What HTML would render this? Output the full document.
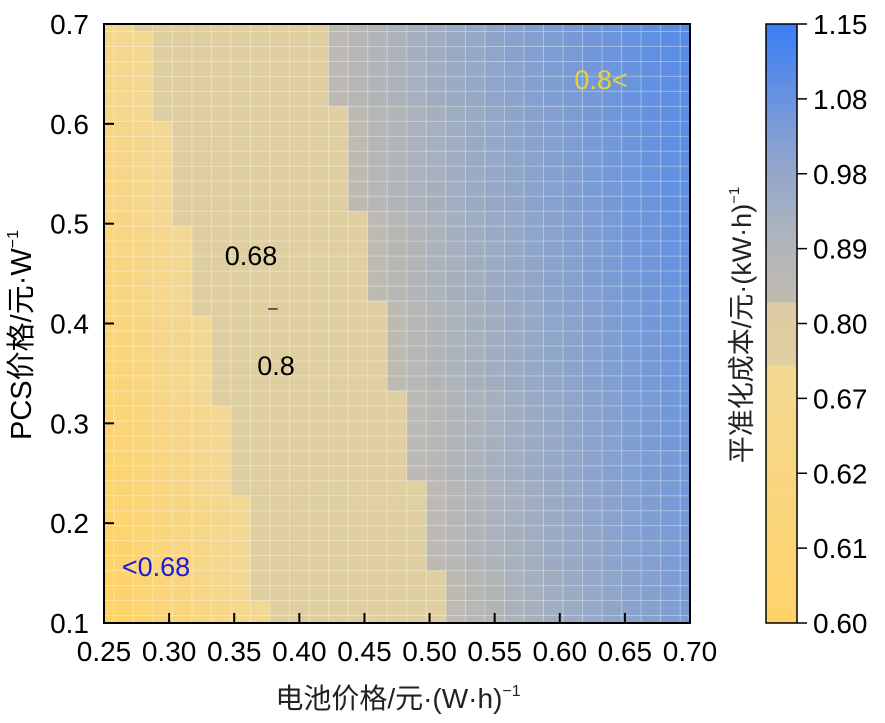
<!DOCTYPE html>
<html><head><meta charset="utf-8">
<style>
html,body{margin:0;padding:0;background:#fff;}
svg{display:block;font-family:"Liberation Sans","Noto Sans CJK SC",sans-serif;}
</style></head>
<body>
<svg id="chart" width="885" height="723" viewBox="0 0 885 723" xmlns="http://www.w3.org/2000/svg">
<defs>
<linearGradient id="cbGrad" x1="0" y1="1" x2="0" y2="0">
<stop offset="0" stop-color="#ffd36a"/>
<stop offset="0.43" stop-color="#f3d893"/>
<stop offset="0.43" stop-color="#e0cfa2"/>
<stop offset="0.535" stop-color="#dccca3"/>
<stop offset="0.535" stop-color="#c0baae"/>
<stop offset="0.65" stop-color="#adb4bd"/>
<stop offset="0.78" stop-color="#8ca3cf"/>
<stop offset="1" stop-color="#3a7ef6"/>
</linearGradient>
</defs>
<g id="cells"></g>
<g id="gridlines"></g>
<rect x="104" y="24" width="586" height="599" fill="none" stroke="#000" stroke-width="2"/>
<g id="axes"></g>
<text x="251" y="265" font-size="27" text-anchor="middle" fill="#000">0.68</text>
<text x="273" y="313" font-size="17" text-anchor="middle" fill="#000">–</text>
<text x="276" y="375" font-size="27" text-anchor="middle" fill="#000">0.8</text>
<text x="156" y="576" font-size="27" text-anchor="middle" fill="#1a1ad8">&lt;0.68</text>
<text x="601" y="89" font-size="27" text-anchor="middle" fill="#e6d23c">0.8&lt;</text>
<text x="398" y="708" font-size="28" text-anchor="middle" fill="#222">电池价格/元·(W·h)<tspan font-size="16" dy="-12">−1</tspan></text>
<text transform="translate(31,335) rotate(-90)" font-size="29" text-anchor="middle" fill="#000">PCS价格/元·W<tspan font-size="16" dy="-13">−1</tspan></text>
<rect x="766" y="24" width="31" height="599" fill="url(#cbGrad)" stroke="#000" stroke-width="1.5"/>
<g id="cbticks"></g>
<text transform="translate(751,325) rotate(-90)" font-size="27" text-anchor="middle" fill="#222">平准化成本/元·(kW·h)<tspan font-size="15" dy="-12">−1</tspan></text>
</svg>
<script>
// Heatmap grid: columns at battery price 0.25..0.70 step 0.015, rows at PCS price 0.70 down to 0.10 step 0.015
const colCount = 31;
const rowCount = 41;
// first column index of the 0.68–0.8 (tan) region for each row, top row (0.70) first
const tanStartCol = [2,3,3,3,3,3,3,4,4,4,4,4,4,4,5,5,5,5,5,5,6,6,6,6,6,6,7,7,7,7,7,7,8,8,8,8,8,8,8,9,9];
// first column index of the >0.8 (gray/blue) region for each row
const highStartCol = [12,12,12,12,12,12,13,13,13,13,13,13,13,14,14,14,14,14,14,15,15,15,15,15,15,16,16,16,16,16,16,17,17,17,17,17,17,18,18,18,18];
const xTicks = [0.25,0.30,0.35,0.40,0.45,0.50,0.55,0.60,0.65,0.70];
const yTicks = [0.1,0.2,0.3,0.4,0.5,0.6,0.7];
const cbTicks = ["0.60","0.61","0.62","0.67","0.80","0.89","0.98","1.08","1.15"];

const NS = "http://www.w3.org/2000/svg";
const X0=104, X1=690, Y0=24, Y1=623;
const xScale = v => X0 + (v-0.25)/(0.45)*(X1-X0);
const yScale = v => Y1 - (v-0.1)/(0.6)*(Y1-Y0);
const cw = (X1-X0)/(colCount-1), ch = (Y1-Y0)/(rowCount-1);
function mix(a,b,t){return a.map((v,i)=>Math.round(v+(b[i]-v)*t));}
function rgb(c){return `rgb(${c[0]},${c[1]},${c[2]})`;}
const cells = document.getElementById('cells');
for(let j=0;j<rowCount;j++){
  for(let k=0;k<colCount;k++){
    const cx = X0 + k*cw, cy = Y0 + j*ch;
    const x = Math.max(X0, cx-cw/2), x2 = Math.min(X1, cx+cw/2);
    const y = Math.max(Y0, cy-ch/2), y2 = Math.min(Y1, cy+ch/2);
    let col;
    const fy = j/(rowCount-1);
    if(k < tanStartCol[j]){
      const t = (k/Math.max(1,tanStartCol[j]-1));
      col = mix(mix([245,214,140],[255,210,100],fy), [243,216,148], Math.min(1,t));
    } else if(k < highStartCol[j]){
      col = mix([222,206,160],[224,207,161], (k-tanStartCol[j])/10);
    } else {
      const t = (k-highStartCol[j])/(colCount-1-highStartCol[j]);
      const fmax = 0.8 - 0.3*fy;
      col = mix([188,186,178],[58,126,246], t*fmax);
    }
    const r = document.createElementNS(NS,'rect');
    
    
    r.setAttribute('x',x); r.setAttribute('y',y);
    r.setAttribute('width',x2-x+0.4); r.setAttribute('height',y2-y+0.4);
    r.setAttribute('fill',rgb(col));
    cells.appendChild(r);
  }
}
const gl = document.getElementById('gridlines');
for(let k=0;k<colCount-1;k++){
  const l=document.createElementNS(NS,'line');
  
  
  const x = X0 + (k+0.5)*cw;
  l.setAttribute('x1',x);l.setAttribute('x2',x);l.setAttribute('y1',Y0);l.setAttribute('y2',Y1);
  l.setAttribute('stroke','rgba(255,255,255,0.35)');l.setAttribute('stroke-width','1');
  gl.appendChild(l);
}
for(let j=0;j<rowCount-1;j++){
  const l=document.createElementNS(NS,'line');
  
  
  const y = Y0 + (j+0.5)*ch;
  l.setAttribute('x1',X0);l.setAttribute('x2',X1);l.setAttribute('y1',y);l.setAttribute('y2',y);
  l.setAttribute('stroke','rgba(255,255,255,0.35)');l.setAttribute('stroke-width','1');
  gl.appendChild(l);
}
const axes = document.getElementById('axes');
xTicks.forEach(v=>{
  const x=xScale(v);
  const l=document.createElementNS(NS,'line');
  
  
  l.setAttribute('x1',x);l.setAttribute('x2',x);l.setAttribute('y1',Y1);l.setAttribute('y2',Y1-10);
  l.setAttribute('stroke','#000');l.setAttribute('stroke-width','2');
  axes.appendChild(l);
  const t=document.createElementNS(NS,'text');
  
  
  t.setAttribute('x',x);t.setAttribute('y',661);t.setAttribute('font-size','28');
  t.setAttribute('text-anchor','middle');t.textContent=v.toFixed(2);
  axes.appendChild(t);
});
yTicks.forEach(v=>{
  const y=yScale(v);
  const l=document.createElementNS(NS,'line');
  
  
  l.setAttribute('x1',X0);l.setAttribute('x2',X0+10);l.setAttribute('y1',y);l.setAttribute('y2',y);
  l.setAttribute('stroke','#000');l.setAttribute('stroke-width','2');
  axes.appendChild(l);
  const t=document.createElementNS(NS,'text');
  
  
  t.setAttribute('x',89);t.setAttribute('y',y+10);t.setAttribute('font-size','28');
  t.setAttribute('text-anchor','end');t.textContent=v.toFixed(1);
  axes.appendChild(t);
});
const cbt = document.getElementById('cbticks');
cbTicks.forEach((s,i)=>{
  const y = Y1 - i*(Y1-Y0)/(cbTicks.length-1);
  const l=document.createElementNS(NS,'line');
  
  
  l.setAttribute('x1',797);l.setAttribute('x2',807);l.setAttribute('y1',y);l.setAttribute('y2',y);
  l.setAttribute('stroke','#000');l.setAttribute('stroke-width','1.5');
  cbt.appendChild(l);
  const t=document.createElementNS(NS,'text');
  
  
  t.setAttribute('x',813);t.setAttribute('y',y+10);t.setAttribute('font-size','28');
  t.textContent=s;
  cbt.appendChild(t);
});
</script>
</body></html>
